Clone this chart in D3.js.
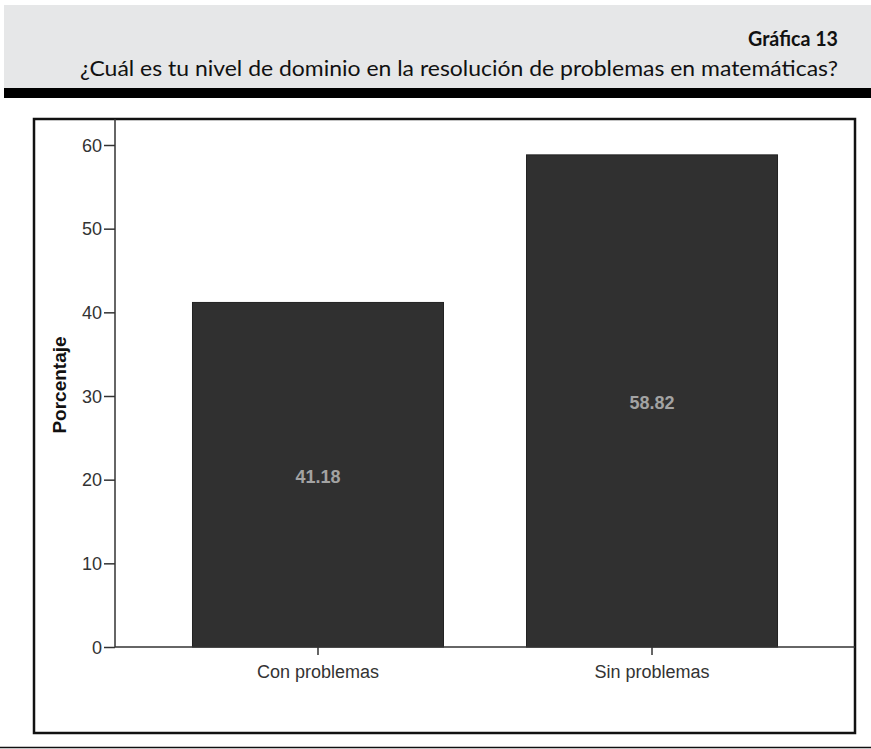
<!DOCTYPE html>
<html><head><meta charset="utf-8">
<script src="https://cdn.jsdelivr.net/npm/d3@7"></script>
<style>body{margin:0;background:#fff}svg{display:block}</style>
</head><body>
<script>
const categories = ["Con problemas", "Sin problemas"];
const values = [41.18, 58.82];
const yTicks = [0, 10, 20, 30, 40, 50, 60];
const chartNumber = "Gráfica 13";
const chartTitle = "¿Cuál es tu nivel de dominio en la resolución de problemas en matemáticas?";
const yLabel = "Porcentaje";

const W = 871, H = 749;
const svg = d3.select("body").append("svg").attr("width", W).attr("height", H);

// header
svg.append("rect").attr("x", 4).attr("y", 5).attr("width", W - 4).attr("height", 83).attr("fill", "#e6e7e8");
svg.append("rect").attr("x", 4).attr("y", 88).attr("width", W - 4).attr("height", 10).attr("fill", "#000");
svg.append("text").attr("x", 838).attr("y", 46).attr("text-anchor", "end")
  .attr("font-family", "Lato, 'Open Sans', sans-serif").attr("font-weight", "bold").attr("font-size", 20)
  .attr("textLength", 90).attr("lengthAdjust", "spacingAndGlyphs")
  .attr("fill", "#111").text(chartNumber);
svg.append("text").attr("x", 80).attr("y", 76)
  .attr("font-family", "Lato, 'Open Sans', sans-serif").attr("font-size", 22)
  .attr("textLength", 758).attr("lengthAdjust", "spacingAndGlyphs")
  .attr("fill", "#111").text(chartTitle);

// frame
svg.append("rect").attr("x", 34).attr("y", 119).attr("width", 821).attr("height", 614)
  .attr("fill", "#fff").attr("stroke", "#111").attr("stroke-width", 2.5);
svg.append("line").attr("x1", 0).attr("x2", W).attr("y1", 747.5).attr("y2", 747.5)
  .attr("stroke", "#111").attr("stroke-width", 1.5);

const x0 = 115, x1 = 855, yBase = 647, yTop = 145;
const y = d3.scaleLinear().domain([0, 60]).range([yBase, yTop]);
const x = d3.scaleBand().domain(categories).range([x0, x1]).paddingInner(0.2485).paddingOuter(0.232);

const g = svg.append("g");
g.selectAll("rect.bar").data(values).enter().append("rect").attr("class", "bar")
  .attr("x", (d, i) => x(categories[i]))
  .attr("y", d => y(d))
  .attr("width", x.bandwidth())
  .attr("height", d => yBase - y(d))
  .attr("fill", "#303030").attr("stroke", "#222").attr("stroke-width", 1);

g.selectAll("text.val").data(values).enter().append("text").attr("class", "val")
  .attr("x", (d, i) => x(categories[i]) + x.bandwidth() / 2)
  .attr("y", d => (y(d) + yBase) / 2 + 8.5)
  .attr("text-anchor", "middle")
  .attr("font-family", "'Liberation Sans', Arial, sans-serif").attr("font-weight", "bold").attr("font-size", 18)
  .attr("fill", "#a3a3a3").text(d => d.toFixed(2));

// axes
const yAxis = svg.append("g").attr("transform", `translate(${x0},0)`)
  .call(d3.axisLeft(y).tickValues(yTicks).tickSize(11).tickPadding(2));
const xAxis = svg.append("g").attr("transform", `translate(0,${yBase})`)
  .call(d3.axisBottom(x).tickSize(8).tickPadding(10));
[yAxis, xAxis].forEach(a => {
  a.attr("font-size", 18);
  a.select(".domain").attr("stroke", "#333").attr("stroke-width", 1.5);
  a.selectAll(".tick line").attr("stroke", "#333").attr("stroke-width", 1.5);
  a.selectAll(".tick text").attr("font-family", "'Liberation Sans', Arial, sans-serif")
    .attr("font-size", 18).attr("fill", "#333");
});
yAxis.select(".domain").attr("d", `M0,${119}V${yBase}`);
xAxis.select(".domain").attr("d", `M${x0},0H${x1}`);
yAxis.selectAll(".tick text").attr("dy", "0.35em");

svg.append("text").attr("transform", `translate(66,385) rotate(-90)`)
  .attr("text-anchor", "middle")
  .attr("font-family", "'Liberation Sans', Arial, sans-serif").attr("font-weight", "bold").attr("font-size", 19)
  .attr("fill", "#111").text(yLabel);
</script>
</body></html>
